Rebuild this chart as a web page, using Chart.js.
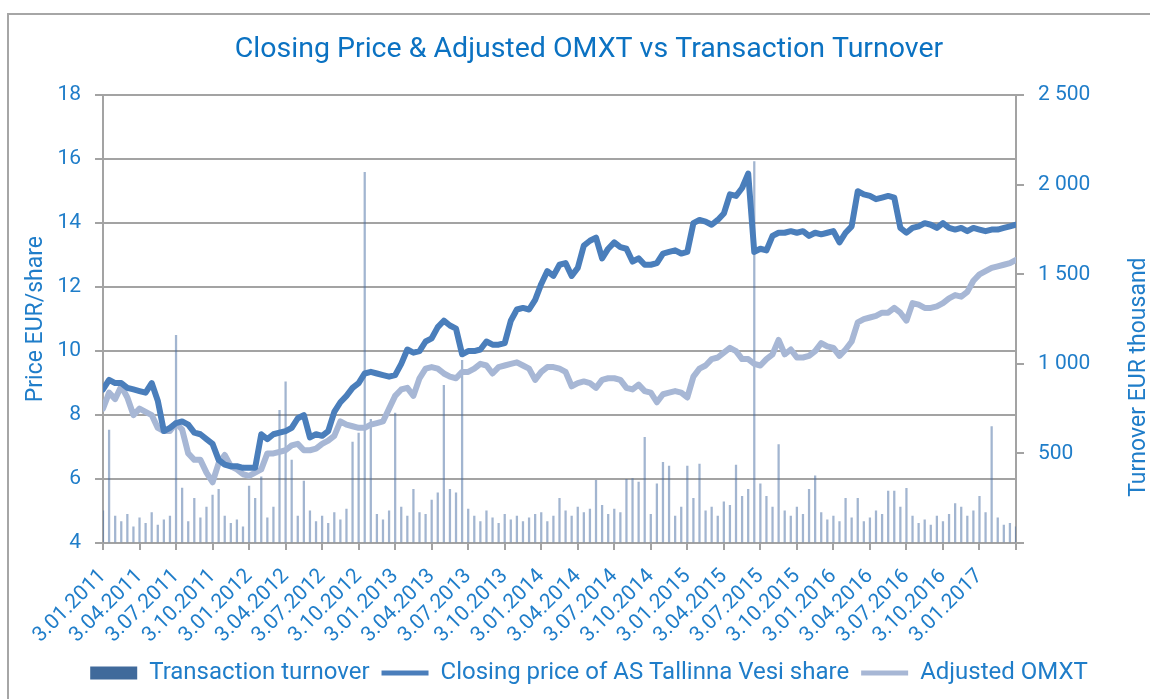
<!DOCTYPE html>
<html>
<head>
<meta charset="utf-8">
<script src="https://cdn.jsdelivr.net/npm/chart.js@4.4.1/dist/chart.umd.min.js"></script>
<style>
  html, body { margin: 0; padding: 0; background: #fff; overflow: hidden; }
  #wrap { position: relative; width: 1150px; height: 699px; }
  #frame { position: absolute; left: 7px; top: 13px; width: 1300px; height: 800px;
           border-left: 2px solid #a6a6a6; border-top: 2px solid #a6a6a6; }
  #chart { position: absolute; left: 0; top: 0; }
</style>
</head>
<body>
<div id="wrap">
  <div id="frame"></div>
  <canvas id="chart" width="1150" height="699"></canvas>
</div>
<script>
// one point every ~half month, 6 per quarter, 3.01.2011 .. end of March 2017
const quarterLabels = [
  "3.01.2011", "3.04.2011", "3.07.2011", "3.10.2011",
  "3.01.2012", "3.04.2012", "3.07.2012", "3.10.2012",
  "3.01.2013", "3.04.2013", "3.07.2013", "3.10.2013",
  "3.01.2014", "3.04.2014", "3.07.2014", "3.10.2014",
  "3.01.2015", "3.04.2015", "3.07.2015", "3.10.2015",
  "3.01.2016", "3.04.2016", "3.07.2016", "3.10.2016",
  "3.01.2017"
];

const closePrice = [
  8.8, 9.1, 9.0, 9.0, 8.85, 8.8, 8.75, 8.7, 9.0, 8.45,
  7.5, 7.6, 7.75, 7.8, 7.7, 7.45, 7.4, 7.25, 7.1, 6.6,
  6.45, 6.4, 6.4, 6.35, 6.35, 6.35, 7.4, 7.25, 7.4, 7.45,
  7.5, 7.6, 7.9, 8.0, 7.3, 7.4, 7.35, 7.5, 8.1, 8.4,
  8.6, 8.85, 9.0, 9.3, 9.35, 9.3, 9.25, 9.2, 9.25, 9.6,
  10.05, 9.95, 10.0, 10.3, 10.4, 10.75, 10.95, 10.8, 10.7, 9.9,
  10.0, 10.0, 10.05, 10.3, 10.2, 10.2, 10.25, 10.95, 11.3, 11.35,
  11.3, 11.6, 12.1, 12.5, 12.35, 12.7, 12.75, 12.35, 12.6, 13.3,
  13.45, 13.55, 12.9, 13.2, 13.4, 13.25, 13.2, 12.8, 12.9, 12.7,
  12.7, 12.75, 13.05, 13.1, 13.15, 13.05, 13.1, 14.0, 14.1, 14.05,
  13.95, 14.1, 14.3, 14.9, 14.85, 15.1, 15.55, 13.1, 13.2, 13.15,
  13.6, 13.7, 13.7, 13.75, 13.7, 13.75, 13.6, 13.7, 13.65, 13.7,
  13.75, 13.4, 13.7, 13.9, 15.0, 14.9, 14.85, 14.75, 14.8, 14.85,
  14.8, 13.85, 13.7, 13.85, 13.9, 14.0, 13.95, 13.85, 14.0, 13.85,
  13.8, 13.85, 13.75, 13.85, 13.8, 13.75, 13.8, 13.8, 13.85, 13.9,
  13.95
];

const adjustedOmxt = [
  8.2, 8.7, 8.5, 8.9, 8.55, 8.0, 8.2, 8.1, 8.0, 7.6,
  7.5, 7.5, 7.75, 7.55, 6.8, 6.6, 6.6, 6.2, 5.9, 6.5,
  6.75, 6.4, 6.3, 6.15, 6.1, 6.2, 6.3, 6.8, 6.8, 6.85,
  6.9, 7.05, 7.1, 6.9, 6.9, 6.95, 7.1, 7.2, 7.35, 7.8,
  7.7, 7.65, 7.6, 7.6, 7.7, 7.75, 7.8, 8.2, 8.6, 8.8,
  8.85, 8.6, 9.15, 9.45, 9.5, 9.45, 9.3, 9.2, 9.15, 9.35,
  9.35, 9.45, 9.6, 9.55, 9.3, 9.5, 9.55, 9.6, 9.65, 9.55,
  9.45, 9.1, 9.35, 9.5, 9.5, 9.45, 9.35, 8.9, 9.0, 9.05,
  9.0, 8.85, 9.1, 9.15, 9.15, 9.1, 8.85, 8.8, 8.95, 8.75,
  8.7, 8.4, 8.65, 8.7, 8.75, 8.7, 8.55, 9.2, 9.45, 9.55,
  9.75, 9.8, 9.95, 10.1, 10.0, 9.75, 9.75, 9.6, 9.55, 9.75,
  9.9, 10.35, 9.9, 10.05, 9.8, 9.8, 9.85, 10.0, 10.25, 10.15,
  10.1, 9.85, 10.05, 10.3, 10.9, 11.0, 11.05, 11.1, 11.2, 11.2,
  11.35, 11.2, 10.95, 11.5, 11.45, 11.35, 11.35, 11.4, 11.5, 11.65,
  11.75, 11.7, 11.85, 12.2, 12.4, 12.5, 12.6, 12.65, 12.7, 12.75,
  12.85
];

// EUR thousand
const turnover = [
  180, 630, 150, 120, 160, 90, 140, 110, 170, 100,
  130, 150, 1160, 307, 120, 250, 140, 200, 268, 300,
  150, 110, 130, 90, 318, 250, 370, 140, 200, 740,
  900, 463, 150, 345, 180, 120, 150, 110, 170, 130,
  190, 563, 613, 2070, 690, 160, 130, 180, 725, 200,
  150, 300, 170, 160, 240, 280, 880, 300, 280, 1020,
  190, 150, 120, 180, 140, 110, 160, 130, 150, 120,
  140, 160, 170, 120, 150, 250, 180, 150, 200, 170,
  190, 350, 210, 160, 190, 170, 355, 360, 340, 590,
  160, 330, 450, 430, 150, 200, 430, 250, 440, 180,
  200, 150, 230, 210, 435, 260, 300, 2130, 330, 260,
  200, 550, 180, 150, 200, 160, 300, 375, 170, 130,
  150, 120, 250, 140, 250, 120, 140, 180, 160, 290,
  290, 200, 305, 150, 110, 130, 100, 150, 120, 160,
  220, 200, 150, 180, 260, 170, 650, 140, 100, 110,
  90
];

const TEXT = "#1f7dc9";
const GRID = "#a3a3a3";
const FONT = "Roboto, 'DejaVu Sans', sans-serif";
Chart.defaults.font.family = FONT;

const toPoints = (arr) => arr.map((v, i) => ({ x: i, y: v }));

function fmtThousand(v) {
  if (v === 0) return "";
  if (v < 1000) return String(v);
  return Math.floor(v / 1000) + " " + String(v % 1000).padStart(3, "0");
}

// right-hand axis title reads bottom-to-top like the left one
const rightTitle = {
  id: "rightTitle",
  afterDraw(chart) {
    const { ctx, chartArea } = chart;
    const y1 = chart.scales.y1;
    ctx.save();
    ctx.translate(y1.right - 11, (chartArea.top + chartArea.bottom) / 2 + 58);
    ctx.rotate(-Math.PI / 2);
    ctx.font = "23px " + FONT;
    ctx.fillStyle = TEXT;
    ctx.textAlign = "center";
    ctx.textBaseline = "middle";
    ctx.fillText("Turnover EUR thousand", 0, 0);
    ctx.restore();
  },
};

const ctx = document.getElementById("chart");
new Chart(ctx, {
  type: "bar",
  data: {
    datasets: [
      {
        type: "bar",
        label: "Transaction turnover",
        data: toPoints(turnover),
        yAxisID: "y1",
        backgroundColor: "rgba(70, 108, 162, 0.5)",
        barThickness: 1.6,
        pointStyle: "rect",
        order: 3,
      },
      {
        type: "line",
        label: "Closing price of AS Tallinna Vesi share",
        data: toPoints(closePrice),
        yAxisID: "y",
        borderColor: "#4a7ebb",
        borderWidth: 6,
        borderJoinStyle: "round",
        borderCapStyle: "round",
        pointRadius: 0,
        tension: 0,
        pointStyle: "line",
        order: 1,
      },
      {
        type: "line",
        label: "Adjusted OMXT",
        data: toPoints(adjustedOmxt),
        yAxisID: "y",
        borderColor: "#a7b7d5",
        borderWidth: 6,
        borderJoinStyle: "round",
        borderCapStyle: "round",
        pointRadius: 0,
        tension: 0,
        pointStyle: "line",
        order: 2,
      },
    ],
  },
  options: {
    responsive: false,
    animation: false,
    layout: { padding: { left: 28, right: 0, top: 0, bottom: 4 } },
    scales: {
      x: {
        type: "linear",
        min: 0,
        max: 150,
        offset: false,
        grid: { drawOnChartArea: false, offset: false, color: GRID, lineWidth: 2, tickLength: 7 },
        border: { color: GRID, width: 2 },
        ticks: {
          stepSize: 6,
          autoSkip: false,
          minRotation: 45,
          maxRotation: 45,
          padding: 14,
          color: TEXT,
          font: { size: 21 },
          callback: (v) => quarterLabels[v / 6] || "",
        },
        afterFit: (s) => { s.height = 106; },
      },
      y: {
        position: "left",
        min: 4,
        max: 18,
        grid: { color: GRID, lineWidth: 2, tickLength: 8 },
        border: { color: GRID, width: 2 },
        ticks: { stepSize: 2, padding: 14, color: TEXT, font: { size: 21 } },
        title: {
          display: true,
          text: "Price EUR/share",
          color: TEXT,
          font: { size: 23 },
          padding: { top: -6, bottom: 0 },
        },
        afterFit: (s) => { s.width = 75; },
      },
      y1: {
        position: "right",
        min: 0,
        max: 2500,
        grid: { drawOnChartArea: false, color: GRID, lineWidth: 2, tickLength: 8 },
        border: { color: GRID, width: 2 },
        ticks: { stepSize: 500, padding: 14, color: TEXT, font: { size: 21 }, callback: fmtThousand },
        afterFit: (s) => { s.width = 134; },
      },
    },
    plugins: {
      title: {
        display: true,
        text: "Closing Price & Adjusted OMXT vs Transaction Turnover",
        color: "#0b72c2",
        font: { size: 28.5, weight: "normal" },
        padding: { top: 33, bottom: 28 },
      },
      legend: {
        position: "bottom",
        labels: {
          usePointStyle: true,
          pointStyleWidth: 47,
          boxHeight: 13,
          padding: 12,
          color: TEXT,
          font: { size: 24 },
          sort: (a, b) => a.datasetIndex - b.datasetIndex,
          generateLabels(chart) {
            const items = Chart.defaults.plugins.legend.labels.generateLabels(chart);
            items.forEach((it) => {
              if (it.datasetIndex === 0) {
                it.fillStyle = "#406a9b";
                it.strokeStyle = "#406a9b";
                it.lineWidth = 0;
              } else {
                it.strokeStyle = chart.data.datasets[it.datasetIndex].borderColor;
                it.lineWidth = 5;
              }
            });
            return items;
          },
        },
      },
      tooltip: { enabled: false },
    },
  },
  plugins: [rightTitle],
});
</script>
</body>
</html>
